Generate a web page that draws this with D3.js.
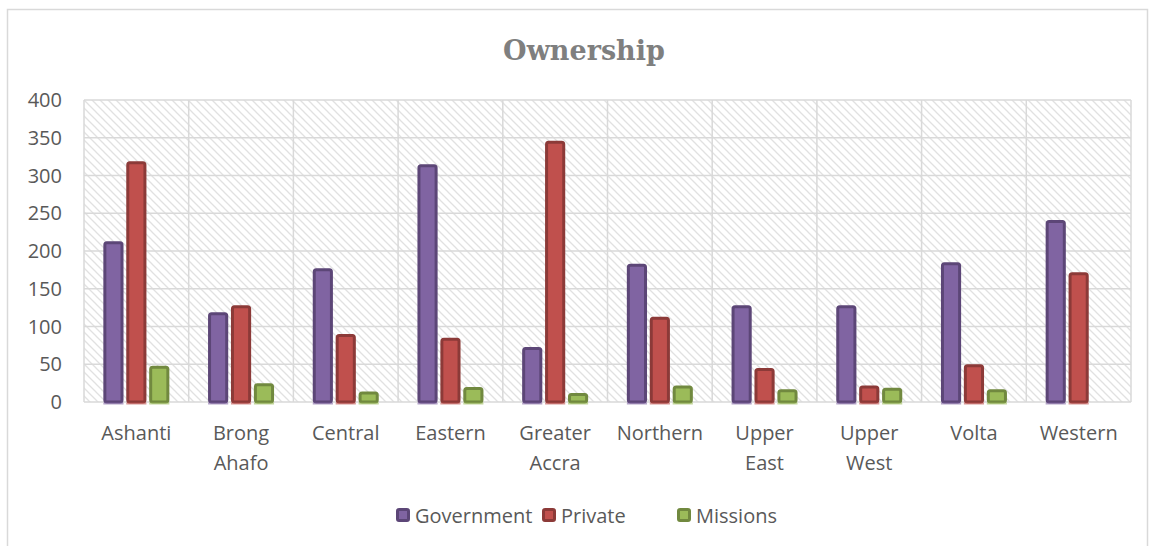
<!DOCTYPE html>
<html><head><meta charset="utf-8">
<script src="https://cdn.jsdelivr.net/npm/d3@7"></script>
<style>body{margin:0;background:#fff}</style>
</head><body>
<svg id="c" width="1150" height="546"></svg>
<script>
const categories = [["Ashanti"],["Brong","Ahafo"],["Central"],["Eastern"],["Greater","Accra"],["Northern"],["Upper","East"],["Upper","West"],["Volta"],["Western"]];
const seriesNames = ["Government","Private","Missions"];
const government = [213,119,177,315,73,183,128,128,185,241];
const privateV = [319,128,90,85,346,113,45,22,50,172];
const missions = [48,25,14,20,12,22,17,19,17,0];
const yTicks = [0,50,100,150,200,250,300,350,400];

const fills = ["#8064A2","#C0504D","#9BBB59"];
const strokes = ["#5C4677","#8C3A38","#71893F"];
const series = [government, privateV, missions];
const FONT = "'Open Sans', Lato, sans-serif";
const FS = 20;

const svg = d3.select("#c");
svg.append("rect").attr("x",7.5).attr("y",9.5).attr("width",1140).attr("height",560)
  .attr("fill","#fff").attr("stroke","#D9D9D9").attr("stroke-width",1.5);

const defs = svg.append("defs");
const pat = defs.append("pattern").attr("id","hatch").attr("patternUnits","userSpaceOnUse")
  .attr("width",8).attr("height",8);
pat.append("rect").attr("width",8).attr("height",8).attr("fill","#fff");
pat.append("path").attr("d","M-1,-1 L9,9 M-1,7 L1,9 M7,-1 L9,1").attr("stroke","#E1E1E1").attr("stroke-width",1.3);

const x0 = 84, x1 = 1131, yTop = 100, yBot = 402;
const x = d3.scaleBand().domain(d3.range(categories.length)).range([x0,x1]);
const y = d3.scaleLinear().domain([0,400]).range([yBot,yTop]);

svg.append("rect").attr("x",x0).attr("y",yTop).attr("width",x1-x0).attr("height",yBot-yTop).attr("fill","url(#hatch)");

svg.append("g").selectAll("line").data(yTicks).join("line")
  .attr("x1",x0).attr("x2",x1).attr("y1",d=>y(d)).attr("y2",d=>y(d))
  .attr("stroke","#D9D9D9").attr("stroke-width",1.5);
svg.append("g").selectAll("line").data(d3.range(categories.length+1)).join("line")
  .attr("x1",d=>x0+d*x.bandwidth()).attr("x2",d=>x0+d*x.bandwidth()).attr("y1",yTop).attr("y2",yBot)
  .attr("stroke","#D9D9D9").attr("stroke-width",1.5);

svg.append("g").selectAll("text").data(yTicks).join("text")
  .attr("x",62).attr("y",d=>y(d)).attr("dy","0.36em").attr("text-anchor","end")
  .attr("font-family",FONT).attr("font-size",FS).attr("fill","#595959")
  .text(d=>d);

const inner = d3.scaleBand().domain(d3.range(3)).range([0,66]).paddingInner(0.12);
const bw = inner.bandwidth();
series.forEach((vals,si)=>{
  const g = svg.append("g");
  vals.forEach((v,ci)=>{
    if(v<=0) return;
    const bx = x(ci) + (x.bandwidth()-66)/2 + inner(si);
    g.append("rect").attr("x",bx+1.5).attr("y",y(v)+1.5).attr("width",bw-3).attr("height",yBot-y(v)-1.5)
      .attr("rx",2).attr("fill",fills[si]).attr("stroke",strokes[si]).attr("stroke-width",3);
    g.append("rect").attr("x",bx).attr("y",yBot+0.5).attr("width",bw).attr("height",2)
      .attr("fill",fills[si]).attr("opacity",0.6);
  });
});

const xl = svg.append("g").selectAll("text").data(categories).join("text")
  .attr("text-anchor","middle").attr("font-family",FONT)
  .attr("font-size",FS).attr("fill","#595959");
xl.each(function(lines,i){
  const t = d3.select(this);
  lines.forEach((ln,j)=>{
    t.append("tspan").attr("x",x(i)+x.bandwidth()/2).attr("y",440+j*30).text(ln);
  });
});

svg.append("text").attr("x",584).attr("y",60).attr("text-anchor","middle")
  .attr("font-family","'DejaVu Serif', serif").attr("font-weight","bold").attr("font-size",27)
  .attr("fill","#7F7F7F").text("Ownership");

const legX = [396,542,677];
const lg = svg.append("g");
seriesNames.forEach((n,i)=>{
  lg.append("rect").attr("x",legX[i]+1.5).attr("y",509.5).attr("width",11).attr("height",11).attr("rx",1.5)
    .attr("fill",fills[i]).attr("stroke",strokes[i]).attr("stroke-width",3);
  lg.append("text").attr("x",legX[i]+19).attr("y",516).attr("dy","0.36em")
    .attr("font-family",FONT).attr("font-size",FS).attr("fill","#595959").text(n);
});
</script>
</body></html>
